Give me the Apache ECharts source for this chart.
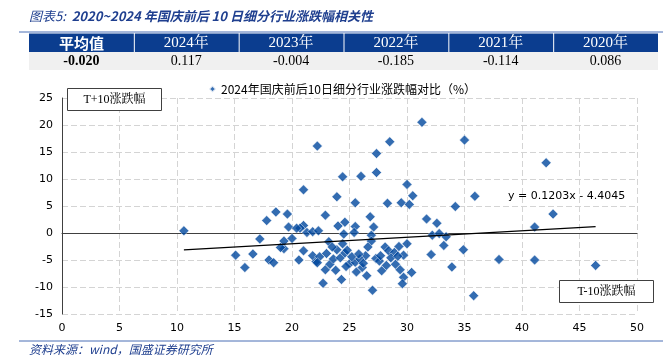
<!DOCTYPE html>
<html><head><meta charset="utf-8">
<script src="https://cdn.jsdelivr.net/npm/echarts@6/dist/echarts.min.js"></script>
<style>html,body{margin:0;padding:0;background:#fff}#c{width:663px;height:360px}</style>
</head><body><div id="c"></div>
<script>
// ---- data ----
const titleText = '2020~2024 年国庆前后 10 日细分行业涨跌幅相关性';
const titlePrefix = '图表5:  ';
const sourceText = '资料来源：wind，国盛证券研究所';
const tableHeaders = ['平均值', '2024年', '2023年', '2022年', '2021年', '2020年'];
const tableValues = ['-0.020', '0.117', '-0.004', '-0.185', '-0.114', '0.086'];
const seriesName = '2024年国庆前后10日细分行业涨跌幅对比（%）';
const yAxisName = 'T+10涨跌幅';
const xAxisName = 'T-10涨跌幅';
const trendSlope = 0.1203;
const trendIntercept = -4.4045;
const trendLabel = 'y = 0.1203x - 4.4045';
// T-10 change (x) and T+10 change (y)
const xValues = [10.6,15.1,15.9,16.6,17.2,17.8,18.0,18.4,18.6,19.3,19.3,19.6,19.7,20.0,21.0,21.0,21.0,20.6,20.7,21.3,
  21.8,22.3,21.8,22.1,22.4,22.9,23.2,23.9,24.0,23.9,24.4,24.6,22.2,22.7,24.3,22.9,23.8,23.3,23.6,24.2,
  24.4,24.6,25.0,25.5,25.6,26.1,26.4,26.5,27.0,27.3,25.5,25.5,25.4,26.0,26.8,27.1,26.9,26.9,27.35,27.35,
  28.5,28.3,28.1,28.4,28.9,29.3,30.0,29.7,28.2,29.0,29.4,29.7,29.6,30.4,29.5,30.0,30.2,30.5,31.3,31.7,
  32.6,32.2,32.8,33.4,33.2,32.1,34.2,34.9,33.9,35.0,35.9,35.8,38.0,41.1,41.1,42.1,42.7,46.4,
  24.8,25.2,24.7,25.9,26.2,23.0,27.6,28.6,29.2,26.6,25.8,23.5,27.8,27.7,20.4,22.2,24.5,19.0];
const yValues = [0.4,-4.1,-6.4,-3.9,-1.1,2.3,-5.0,-5.5,3.9,-2.9,-1.5,3.5,1.1,-1.0,8.0,1.4,-3.3,-5.0,0.9,0.1,
  0.25,0.4,-4.2,-5.3,-4.4,3.3,-1.6,6.7,1.3,-3.1,10.4,2.0,16.1,-9.3,-8.6,-6.8,-6.9,-5.8,-4.8,-4.6,
  -2.0,-3.7,-5.7,-5.4,-7.2,-6.4,-4.2,-7.9,-10.6,-4.7,5.6,1.2,0.1,10.5,3.0,1.1,-0.4,-1.5,11.2,14.7,
  16.9,5.5,-2.6,-3.3,-3.6,-2.5,-2.0,-4.1,-6.0,-5.8,-6.8,-8.2,-9.4,-7.3,5.6,9.0,5.3,6.9,20.5,2.6,
  1.8,-0.4,-0.1,-0.7,-2.3,-4.0,4.9,-3.1,-6.3,17.2,6.8,-11.6,-4.9,1.1,-5.0,13.0,3.5,-6.0,
  -3.2,-4.4,-6.2,-4.8,-5.6,-3.8,-5.2,-4.6,-4.3,-2.6,-3.9,-2.6,-7.0,-4.2,0.9,-5.5,-0.2,-2.7];
const xMin = 0, xMax = 50, xStep = 5;
const yMin = -15, yMax = 25, yStep = 5;

// ---- build ----
const points = xValues.map((x, i) => [x, yValues[i]]);
const lo = Math.min(...xValues), hi = Math.max(...xValues);
const trend = [[lo, trendSlope * lo + trendIntercept], [hi, trendSlope * hi + trendIntercept]];

const chart = echarts.init(document.getElementById('c'), null, {renderer: 'canvas'});
const BLUE = '#0b3d8f';
const tblLeft = 29, tblRight = 658, colW = (tblRight - tblLeft) / tableHeaders.length;
const graphics = [];
graphics.push({type: 'text', left: 29, top: 10, style: {
  rich: {a: {fontStyle: 'italic', fontSize: 13, fill: '#1f3f8f', fontFamily: 'Noto Sans CJK SC'},
         b: {fontStyle: 'italic', fontSize: 13, fontWeight: 'bold', fill: '#1f3f8f', fontFamily: 'Noto Sans CJK SC'}},
  text: '{a|' + titlePrefix + '}{b|' + titleText + '}'}});
graphics.push({type: 'line', shape: {x1: 19, y1: 32, x2: 663, y2: 32}, style: {stroke: '#4a6fb5', lineWidth: 1}});
graphics.push({type: 'rect', shape: {x: tblLeft, y: 52, width: tblRight - tblLeft, height: 18}, style: {fill: '#f0f0f0'}});
tableHeaders.forEach((h, i) => {
  graphics.push({type: 'rect', shape: {x: tblLeft + i * colW + (i ? 1 : 0), y: 33.5, width: colW - (i ? 1 : 0), height: 18.5}, style: {fill: BLUE}});
  graphics.push({type: 'text', x: tblLeft + i * colW + colW / 2, y: 43, style: {text: h, fill: '#fff', fontSize: 15,
    fontWeight: i === 0 ? 'bold' : 'normal', fontFamily: i === 0 ? 'Noto Sans CJK SC' : 'Liberation Serif, Noto Serif CJK SC, serif',
    textAlign: 'center', textVerticalAlign: 'middle'}});
  graphics.push({type: 'text', x: tblLeft + i * colW + colW / 2, y: 61.5, style: {text: tableValues[i], fill: '#000', fontSize: 14,
    fontWeight: i === 0 ? 'bold' : 'normal', fontFamily: 'Liberation Serif, serif', textAlign: 'center', textVerticalAlign: 'middle'}});
});
// axis name boxes
graphics.push({type: 'rect', shape: {x: 67.5, y: 88.5, width: 94, height: 22}, style: {fill: '#fff', stroke: '#404040', lineWidth: 1}, z: 10});
graphics.push({type: 'text', x: 114.5, y: 100, z: 11, style: {text: yAxisName, fontSize: 12, fill: '#000', fontFamily: 'Liberation Serif, Noto Serif CJK SC, serif', textAlign: 'center', textVerticalAlign: 'middle'}});
graphics.push({type: 'rect', shape: {x: 559.5, y: 280.5, width: 94, height: 22}, style: {fill: '#fff', stroke: '#404040', lineWidth: 1}, z: 10});
graphics.push({type: 'text', x: 606.5, y: 292, z: 11, style: {text: xAxisName, fontSize: 12, fill: '#000', fontFamily: 'Liberation Serif, Noto Serif CJK SC, serif', textAlign: 'center', textVerticalAlign: 'middle'}});
graphics.push({type: 'text', x: 508, y: 196, z: 11, style: {text: trendLabel, fontSize: 11, fill: '#000', fontFamily: 'DejaVu Sans', textVerticalAlign: 'middle'}});
graphics.push({type: 'line', shape: {x1: 19, y1: 341, x2: 663, y2: 341}, style: {stroke: '#4a6fb5', lineWidth: 1}});
graphics.push({type: 'text', left: 29, top: 343, style: {text: sourceText, fontStyle: 'italic', fontSize: 12, fill: '#1f3f8f', fontFamily: 'Noto Sans CJK SC'}});

const axisLabel = {fontFamily: 'DejaVu Sans', fontSize: 11, color: '#000'};
const splitLine = {show: true, lineStyle: {type: [6, 3], color: '#d4d4d4', width: 1}};
chart.setOption({
  animation: false,
  grid: {left: 62, right: 26, top: 98, bottom: 46, containLabel: false},
  legend: {data: [{name: seriesName, icon: 'diamond'}], top: 78, left: 203, itemWidth: 7, itemHeight: 7, itemGap: 6,
    textStyle: {fontSize: 12, color: '#000', fontFamily: 'Noto Sans CJK SC'}},
  xAxis: {type: 'value', min: xMin, max: xMax, interval: xStep,
    axisLine: {show: true, lineStyle: {color: '#404040'}}, axisTick: {show: false},
    axisLabel: Object.assign({margin: 9}, axisLabel), splitLine},
  yAxis: {type: 'value', min: yMin, max: yMax, interval: yStep,
    axisLine: {show: true, onZero: false, lineStyle: {color: '#404040'}}, axisTick: {show: false},
    axisLabel: Object.assign({margin: 9}, axisLabel), splitLine},
  series: [
    {name: seriesName, type: 'scatter', symbol: 'diamond', symbolSize: 10, data: points,
     itemStyle: {color: '#00479d', borderColor: '#fff', borderWidth: 0.6}, z: 3},
    {name: 'trend', type: 'line', data: trend, symbol: 'none', lineStyle: {color: '#000', width: 1.2}, z: 4, silent: true}
  ],
  graphic: graphics
});
</script></body></html>
